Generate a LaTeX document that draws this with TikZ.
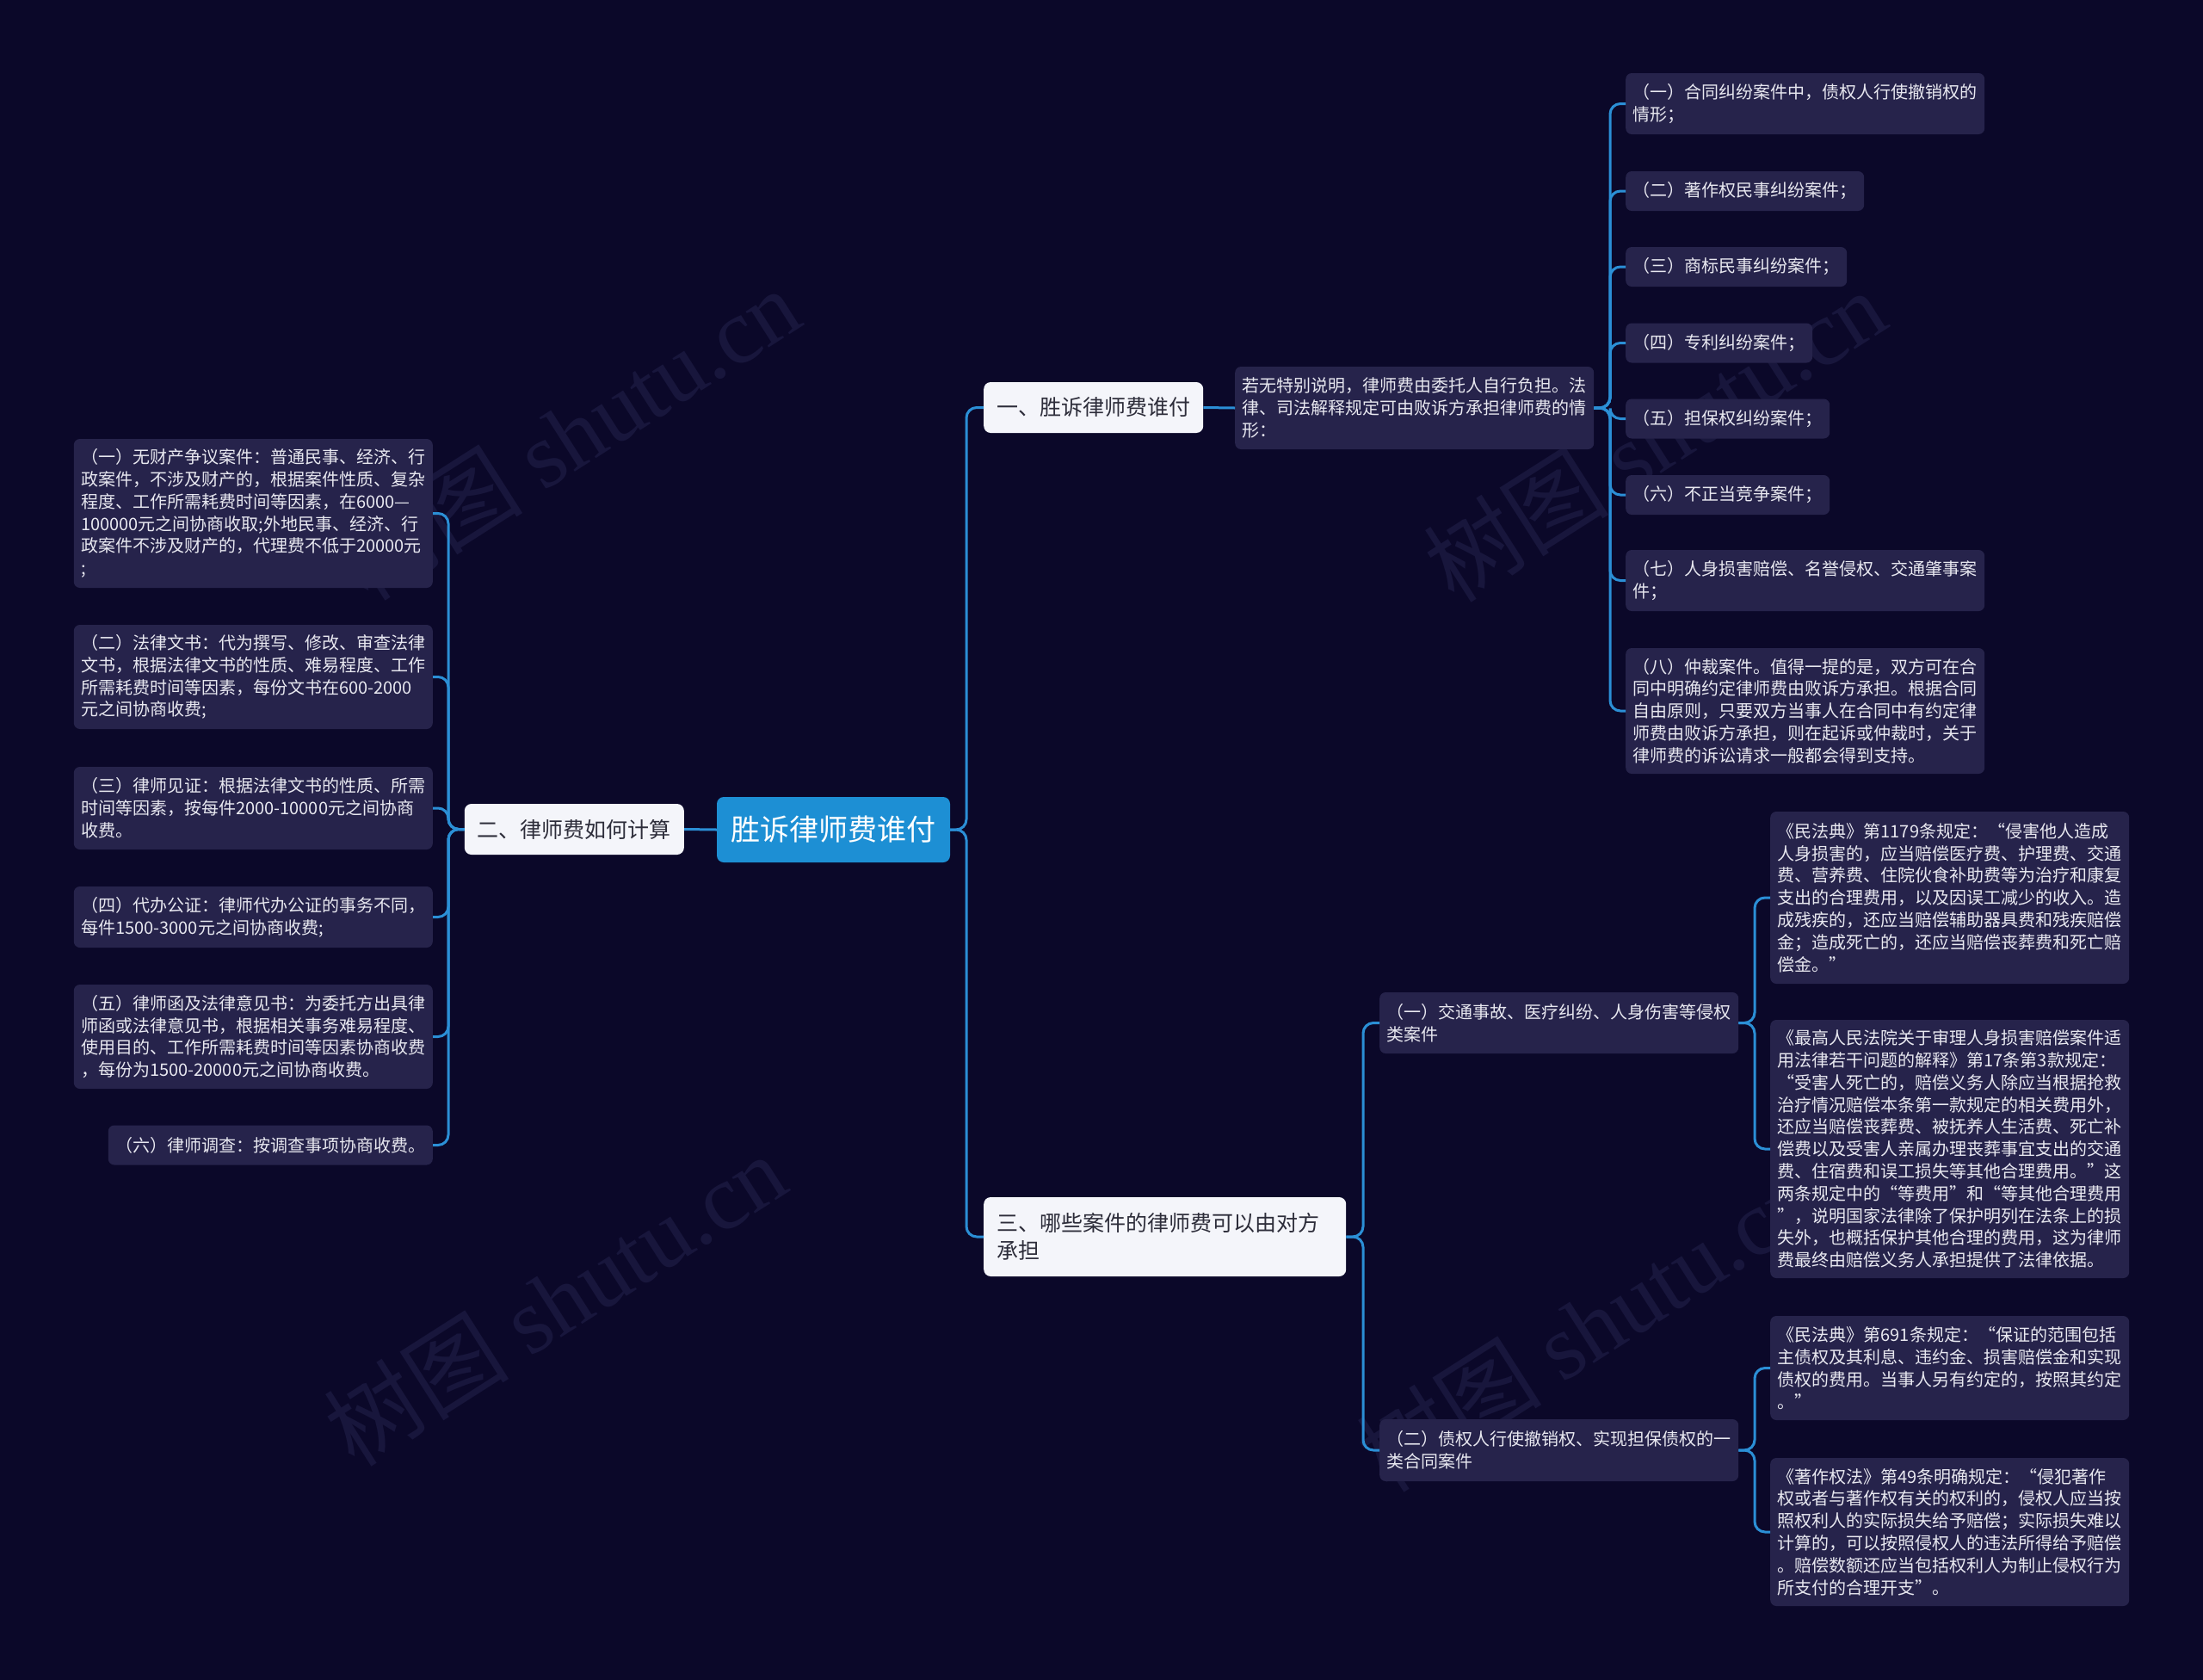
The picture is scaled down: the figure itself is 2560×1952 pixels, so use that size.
\documentclass[tikz,border=0pt]{standalone}
\usepackage{fontspec}
\setmainfont{Noto Sans CJK SC}
\newfontfamily\wmserif{Liberation Serif}
\definecolor{bgc}{HTML}{0B0829}
\definecolor{leafc}{HTML}{26234B}
\definecolor{leaftext}{HTML}{E8E8F0}
\definecolor{branchc}{HTML}{F4F5FA}
\definecolor{branchtext}{HTML}{2D2D3A}
\definecolor{rootc}{HTML}{1D8FD4}
\definecolor{connc}{HTML}{2B8FD6}
\definecolor{wmc}{HTML}{18163C}
\begin{document}
\begin{tikzpicture}[x=1pt,y=-1pt,
  leafbox/.style={fill=leafc, rounded corners=7pt, text=leaftext, font=\fontsize{20}{25.8}\selectfont, inner xsep=8.5pt, inner ysep=3pt, align=left},
  widebox/.style={leafbox, text width=400pt},
  branchbox/.style={fill=branchc, rounded corners=8pt, text=branchtext, font=\fontsize{25}{32.6}\selectfont, inner xsep=15pt, inner ysep=3pt, align=left},
  rootbox/.style={fill=rootc, rounded corners=8pt, text=white, font=\fontsize{34}{40}\selectfont, inner xsep=16.5pt, inner ysep=3pt},
  conn/.style={draw=connc, line width=3pt, rounded corners=12pt},
  wm/.style={text=wmc, font=\fontsize{108}{108}\selectfont, rotate=32.5}]
\fill[bgc] (0,0) rectangle (2560,1952);
\useasboundingbox (0,0) rectangle (2560,1952);
% watermarks
\node[wm] (w1) at (661,504) {树图 {\wmserif shutu.cn}};
\node[wm] (w2) at (1923,506) {树图 {\wmserif shutu.cn}};
\node[wm] (w3) at (645,1510) {树图 {\wmserif shutu.cn}};
\node[wm] (w4) at (1845,1540) {树图 {\wmserif shutu.cn}};
% root and branches
\node[rootbox, minimum width=271pt, minimum height=76pt] (root) at (968.5,964) {胜诉律师费谁付};
\node[branchbox, minimum height=59pt, anchor=west] (b1) at (1143,473.5) {一、胜诉律师费谁付};
\node[branchbox, minimum height=59pt, anchor=east] (b2) at (795,963.5) {二、律师费如何计算};
\node[branchbox, text width=391pt, minimum height=92pt, anchor=west] (b3) at (1143,1437) {三、哪些案件的律师费可以由对方\\承担};
% branch 1
\node[widebox, minimum height=96pt, anchor=west] (s1) at (1435,474) {若无特别说明，律师费由委托人自行负担。法\\律、司法解释规定可由败诉方承担律师费的情\\形：};
\node[widebox, minimum height=71pt, anchor=west] (r1) at (1889,120.5) {（一）合同纠纷案件中，债权人行使撤销权的\\情形；};
\node[leafbox, minimum height=46pt, anchor=west] (r2) at (1889,222) {（二）著作权民事纠纷案件；};
\node[leafbox, minimum height=46pt, anchor=west] (r3) at (1889,310) {（三）商标民事纠纷案件；};
\node[leafbox, minimum height=46pt, anchor=west] (r4) at (1889,398.5) {（四）专利纠纷案件；};
\node[leafbox, minimum height=46pt, anchor=west] (r5) at (1889,486.5) {（五）担保权纠纷案件；};
\node[leafbox, minimum height=46pt, anchor=west] (r6) at (1889,575) {（六）不正当竞争案件；};
\node[widebox, minimum height=71pt, anchor=west] (r7) at (1889,674.5) {（七）人身损害赔偿、名誉侵权、交通肇事案\\件；};
\node[widebox, minimum height=146pt, anchor=west] (r8) at (1889,826) {（八）仲裁案件。值得一提的是，双方可在合\\同中明确约定律师费由败诉方承担。根据合同\\自由原则，只要双方当事人在合同中有约定律\\师费由败诉方承担，则在起诉或仲裁时，关于\\律师费的诉讼请求一般都会得到支持。};
% branch 2
\node[widebox, minimum height=173pt, anchor=east] (l1) at (503,596.5) {（一）无财产争议案件：普通民事、经济、行\\政案件，不涉及财产的，根据案件性质、复杂\\程度、工作所需耗费时间等因素，在6000—\\100000元之间协商收取;外地民事、经济、行\\政案件不涉及财产的，代理费不低于20000元\\;};
\node[widebox, minimum height=121pt, anchor=east] (l2) at (503,786.5) {（二）法律文书：代为撰写、修改、审查法律\\文书，根据法律文书的性质、难易程度、工作\\所需耗费时间等因素，每份文书在600-2000\\元之间协商收费;};
\node[widebox, minimum height=96pt, anchor=east] (l3) at (503,939) {（三）律师见证：根据法律文书的性质、所需\\时间等因素，按每件2000-10000元之间协商\\收费。};
\node[widebox, minimum height=71pt, anchor=east] (l4) at (503,1065.5) {（四）代办公证：律师代办公证的事务不同，\\每件1500-3000元之间协商收费;};
\node[widebox, minimum height=121pt, anchor=east] (l5) at (503,1204.5) {（五）律师函及法律意见书：为委托方出具律\\师函或法律意见书，根据相关事务难易程度、\\使用目的、工作所需耗费时间等因素协商收费\\，每份为1500-20000元之间协商收费。};
\node[leafbox, minimum height=46pt, anchor=east] (l6) at (503,1330.5) {（六）律师调查：按调查事项协商收费。};
% branch 3
\node[widebox, minimum height=71pt, anchor=west] (c1) at (1603,1188.5) {（一）交通事故、医疗纠纷、人身伤害等侵权\\类案件};
\node[widebox, minimum height=72pt, anchor=west] (c2) at (1603,1685) {（二）债权人行使撤销权、实现担保债权的一\\类合同案件};
\node[widebox, minimum height=200pt, anchor=west] (d1) at (2057,1043) {《民法典》第1179条规定：“侵害他人造成\\人身损害的，应当赔偿医疗费、护理费、交通\\费、营养费、住院伙食补助费等为治疗和康复\\支出的合理费用，以及因误工减少的收入。造\\成残疾的，还应当赔偿辅助器具费和残疾赔偿\\金；造成死亡的，还应当赔偿丧葬费和死亡赔\\偿金。”};
\node[widebox, minimum height=300pt, anchor=west] (d2) at (2057,1335) {《最高人民法院关于审理人身损害赔偿案件适\\用法律若干问题的解释》第17条第3款规定：\\“受害人死亡的，赔偿义务人除应当根据抢救\\治疗情况赔偿本条第一款规定的相关费用外，\\还应当赔偿丧葬费、被抚养人生活费、死亡补\\偿费以及受害人亲属办理丧葬事宜支出的交通\\费、住宿费和误工损失等其他合理费用。”这\\两条规定中的“等费用”和“等其他合理费用\\”，说明国家法律除了保护明列在法条上的损\\失外，也概括保护其他合理的费用，这为律师\\费最终由赔偿义务人承担提供了法律依据。};
\node[widebox, minimum height=121pt, anchor=west] (d3) at (2057,1589.5) {《民法典》第691条规定：“保证的范围包括\\主债权及其利息、违约金、损害赔偿金和实现\\债权的费用。当事人另有约定的，按照其约定\\。”};
\node[widebox, minimum height=172pt, anchor=west] (d4) at (2057,1780) {《著作权法》第49条明确规定：“侵犯著作\\权或者与著作权有关的权利的，侵权人应当按\\照权利人的实际损失给予赔偿；实际损失难以\\计算的，可以按照侵权人的违法所得给予赔偿\\。赔偿数额还应当包括权利人为制止侵权行为\\所支付的合理开支”。};
% connectors
\draw[conn] (root.east) -- (1123,964) |- (b1.west);
\draw[conn] (root.east) -- (1123,964) |- (b3.west);
\draw[conn] (root.west) -- (b2.east);
\foreach \n in {l1,l2,l3,l4,l5,l6} {\draw[conn] (b2.west) -- (521,963.5) |- (\n.east);}
\draw[conn] (b1.east) -- (s1.west);
\foreach \n in {r1,r2,r3,r4,r5,r6,r7,r8} {\draw[conn] (s1.east) -- (1871,474) |- (\n.west);}
\foreach \n in {c1,c2} {\draw[conn] (b3.east) -- (1584,1437) |- (\n.west);}
\foreach \n in {d1,d2} {\draw[conn] (c1.east) -- (2039,1188.5) |- (\n.west);}
\foreach \n in {d3,d4} {\draw[conn] (c2.east) -- (2039,1685) |- (\n.west);}
\end{tikzpicture}
\end{document}
